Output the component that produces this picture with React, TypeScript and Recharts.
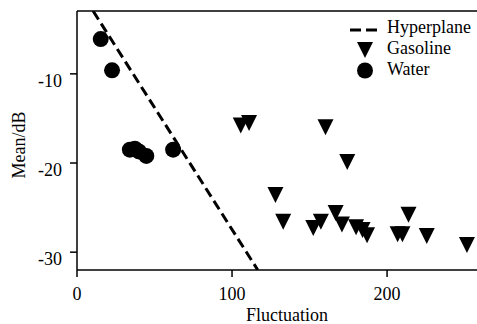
import React from 'react'
import { ScatterChart, Scatter, XAxis, YAxis, ReferenceLine } from 'recharts'

// points: [fluctuation, mean dB]
const waterPoints = [
  [15.3, -6.1], [22.6, -9.6], [34.1, -18.5], [37.3, -18.4],
  [39.9, -18.7], [44.7, -19.2], [62, -18.5],
]
const gasolinePoints = [
  [105.6, -15.8], [111, -15.5], [160.3, -16.0], [174.3, -19.9],
  [128, -23.6], [133, -26.6], [152.4, -27.3], [157.3, -26.6],
  [166.8, -25.6], [170.9, -26.9], [180, -27.2], [184.2, -27.5],
  [187.1, -28.1], [213.8, -25.8], [206.8, -28.0], [209.9, -28.0],
  [225.6, -28.2], [251.5, -29.2],
]
const hyperplaneEnds = [[10.4, -2.95], [116.6, -32]]
const xTicks = [0, 100, 200]
const yTicks = [-30, -20, -10]
const legendNames = ['Hyperplane', 'Gasoline', 'Water']

const FONT = 'Liberation Serif, DejaVu Serif, Times New Roman, serif'

const toXY = (pts: number[][]) => pts.map(([x, y]) => ({ x, y }))

const DownTriangle = (props: any) => {
  const { cx, cy } = props
  if (cx == null || cy == null) return <g />
  const h = 8
  return <polygon points={`${cx - h},${cy - h} ${cx + h},${cy - h} ${cx},${cy + h}`} fill="#000" />
}

const Dot = (props: any) => {
  const { cx, cy } = props
  if (cx == null || cy == null) return <g />
  return <circle cx={cx} cy={cy} r={8} fill="#000" />
}

const XTick = (props: any) => {
  const { x, y, payload } = props
  return (
    <text x={x} y={y + 21} textAnchor="middle" fontSize={18} style={{ fontFamily: FONT }} fill="#000">
      {payload.value}
    </text>
  )
}

const YTick = (props: any) => {
  const { x, y, payload } = props
  return (
    <text x={x} y={y + 13} textAnchor="end" fontSize={18} style={{ fontFamily: FONT }} fill="#000">
      {payload.value}
    </text>
  )
}

// legend drawn by hand: dashed line, down triangle, dot
function LegendBox() {
  const lx = 365
  const tx = 387
  const baselines = [33, 54, 75]
  return (
    <g>
      <line x1={350} x2={378} y1={30} y2={30} stroke="#000" strokeWidth={3} strokeDasharray="11 5" />
      <polygon points={`${lx - 8},${42} ${lx + 8},${42} ${lx},${58}`} fill="#000" />
      <circle cx={lx} cy={70.5} r={8} fill="#000" />
      {legendNames.map((name, i) => (
        <text key={name} x={tx} y={baselines[i]} fontSize={18} style={{ fontFamily: FONT }} fill="#000">
          {name}
        </text>
      ))}
    </g>
  )
}

export default function App() {
  return (
    <div style={{ position: 'absolute', left: 0, top: 0, background: '#fff', fontFamily: FONT }}>
      <ScatterChart width={477} height={324} margin={{ top: 11, right: 0, left: 0, bottom: 0 }} style={{ fontFamily: FONT }}>
        <XAxis
          type="number"
          dataKey="x"
          domain={[0, 258]}
          ticks={xTicks}
          allowDataOverflow
          height={54}
          tickSize={7}
          tick={<XTick />}
          axisLine={{ stroke: '#000', strokeWidth: 1.5 }}
          tickLine={{ stroke: '#000', strokeWidth: 1.5 }}
          label={{
            content: () => (
              <text x={287} y={321} textAnchor="middle" fontSize={18} style={{ fontFamily: FONT }} fill="#000">
                Fluctuation
              </text>
            ),
          }}
        />
        <YAxis
          type="number"
          dataKey="y"
          domain={[-32, -2.95]}
          ticks={yTicks}
          allowDataOverflow
          width={77}
          tickSize={7}
          tickMargin={8}
          tick={<YTick />}
          axisLine={{ stroke: '#000', strokeWidth: 1.5 }}
          tickLine={{ stroke: '#000', strokeWidth: 1.5 }}
          label={{
            content: () => (
              <text x={25} y={145} transform="rotate(-90 25 145)" textAnchor="middle" fontSize={18} style={{ fontFamily: FONT }} fill="#000">
                Mean/dB
              </text>
            ),
          }}
        />
        <ReferenceLine y={-2.95} stroke="#000" strokeWidth={1.5} />
        <ReferenceLine
          segment={toXY(hyperplaneEnds)}
          stroke="#000"
          strokeWidth={3}
          strokeDasharray="10 5"
          ifOverflow="hidden"
        />
        <Scatter name="Gasoline" data={toXY(gasolinePoints)} shape={<DownTriangle />} isAnimationActive={false} />
        <Scatter name="Water" data={toXY(waterPoints)} shape={<Dot />} isAnimationActive={false} />
        <LegendBox />
      </ScatterChart>
    </div>
  )
}
